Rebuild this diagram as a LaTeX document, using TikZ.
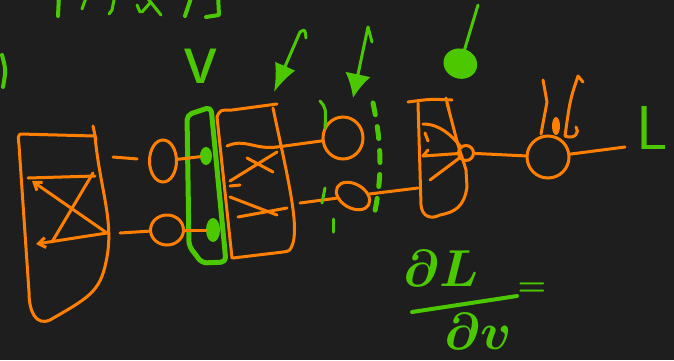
\documentclass[tikz,border=0pt]{standalone}
\usetikzlibrary{arrows.meta,shapes.geometric}

\definecolor{board}{HTML}{1E1E1E}
\definecolor{pen}{HTML}{FF8000}
\definecolor{ink}{HTML}{4CC800}

\tikzset{
  op/.style={pen, line width=3pt, line cap=round, line join=round},
  gr/.style={ink, line width=4pt, line cap=round, line join=round},
  unit/.style={draw=pen, line width=3pt, ellipse, inner sep=0pt},
  blob/.style={fill=ink, ellipse, inner sep=0pt},
  hand/.style={ink, inner sep=0pt},
  >={Straight Barb[length=7pt,width=10pt]}
}

\begin{document}
\begin{tikzpicture}[x=1pt,y=-1pt]
\useasboundingbox (0,0) rectangle (674,360);
\fill[board] (0,0) rectangle (674,360);
\clip (0,0) rectangle (674,360);

% scribbles cut off at the top
\draw[gr] (59,-5) -- (58,16);
\draw[gr,line width=3pt] (87,-5) -- (82,9);
\draw[gr,line width=3pt] (115,-5) -- (112,10) -- (109,14);
\draw[gr,line width=3pt] (145,-5) -- (161,15);
\draw[gr,line width=3pt] (150,3) -- (142,12);
\draw[gr,line width=3pt] (137,5) -- (140,12);
\draw[gr] (192,-5) -- (185,16);
\draw[gr] (218,-5) -- (219,15) -- (206,17);
\draw[gr] (2,55) .. controls (6,70) .. (3,87);

% first layer
\draw[op] (20,134) -- (95,136) .. controls (100,190) and (115,222) .. (106,262)
  .. controls (100,292) and (88,298) .. (50,320) .. controls (36,326) and (29,312) .. (29,292)
  -- (19,145) .. controls (18,136) .. (20,134);
\draw[op] (93,126) -- (96,140);
\draw[op] (28,178) -- (95,176);
\draw[op,->] (107,233) -- (32,181);
\draw[op] (93,173) -- (52,242);
\draw[op,->] (107,233) -- (36,244);
\coordinate (a1) at (113,157);
\coordinate (a2) at (120,233);

\node[unit, minimum width=27pt, minimum height=42pt] (x1) at (163,161) {};
\node[unit, minimum width=33pt, minimum height=30pt] (x2) at (167,230) {};
\draw[op, shorten >=11pt] (a1) -- (x1);
\draw[op] (a2) -- (x2);

% weights v
\draw[ink, line width=5pt, rounded corners=5pt, line join=round]
  (187,115) -- (211,107) -- (226,262) -- (202,263) -- (189,246) -- cycle;
\node[blob, minimum width=12pt, minimum height=18pt] (b1) at (206,156) {};
\node[blob, minimum width=14pt, minimum height=24pt] (b2) at (213,230) {};
\draw[op] (x1) -- (b1);
\draw[op] (x2) -- (b2);
\node[hand, font=\sffamily\fontsize{80}{80}\selectfont] (v) at (201,66) {v};

% second layer
\draw[op] (217,117) .. controls (220,110) .. (232,110) -- (277,104);
\draw[op] (273,108) .. controls (286,170) and (299,222) .. (293,243)
  .. controls (290,251) .. (283,252) -- (233,258);
\draw[op] (232,258) -- (217,117);
\coordinate (s1) at (277,147);
\coordinate (s2) at (300,203);
\draw[op] (227,146) .. controls (245,138) and (255,150) .. (s1);
\draw[op] (230,181) -- (277,152);
\draw[op] (247,158) -- (273,172);
\draw[op] (230,186) -- (240,185);
\draw[op] (230,197) -- (277,215);
\draw[op] (238,217) -- (287,208);

\node[unit, minimum width=40pt, minimum height=42pt] (x3) at (343,138) {};
\node[unit, minimum width=36pt, minimum height=24pt, rotate=-30] (x4) at (353,196) {};
\draw[op] (s1) -- (x3);
\draw[op] (s2) -- (x4);

% marks and cut
\draw[gr,line width=3pt] (320,101) .. controls (326,108) .. (325,128);
\draw[gr,line width=3pt] (325,188) -- (322,203);
\draw[gr,line width=3pt] (333,219) -- (333,232);
\draw[gr, line width=5pt, dash pattern=on 12pt off 12pt]
  (373,103) .. controls (383,150) and (381,180) .. (375,211);

% third layer
\coordinate (t1) at (418,188);
\draw[op] (x4) -- (t1);
\draw[op] (408,102) .. controls (430,99) .. (452,100);
\draw[op] (446,98) -- (449,110);
\draw[op] (418,103) -- (421,205) .. controls (422,216) and (430,220) .. (440,215)
  .. controls (455,212) and (464,207) .. (467,187) -- (466,170)
  .. controls (463,160) .. (458,145) -- (447,103);
\node[draw=pen, line width=3pt, circle, minimum size=15pt, inner sep=0pt] (k) at (466,153) {};
\draw[op] (423,124) .. controls (440,124) and (452,136) .. (k);
\draw[op] (k) -- (423,156);
\draw[op] (428,150) -- (423,156);
\draw[op] (430,180) -- (k);
\draw[op] (425,133) -- (428,141);

% loss
\node[unit, circle, minimum size=42pt] (y) at (548,157) {};
\coordinate (e) at (625,147);
\draw[op] (k) -- (y);
\draw[op] (y) -- (e);
\node[hand, font=\sffamily\fontsize{62}{62}\selectfont] (L) at (652,128) {L};
\draw[op] (543,80) -- (547,102) -- (541,134);
\draw[op] (583,82) -- (578,76) .. controls (570,100) .. (565,136) .. controls (575,140) and (580,132) .. (576,127);
\fill[pen] (556,126) ellipse (4 and 9);

% gradients
\draw[gr, line width=3pt, -{Latex[length=28pt,width=22pt]}] (306,38) .. controls (305,29) .. (300,32) -- (274,92);
\draw[gr, line width=3pt, -{Latex[length=24pt,width=26pt]}] (372,42) -- (368,27) -- (353,98);
\draw[gr, line width=3pt, -{Circle[length=30pt,width=34pt]}] (478,5) -- (456,78);

\node[hand] (dL) at (441,268) {\scalebox{5.2}{\boldmath$\partial L$}};
\draw[gr] (412,312) -- (517,296);
\node[hand] (dv) at (478,331) {\scalebox{5.2}{\boldmath$\partial v$}};
\node[hand] (eq) at (532,289) {\scalebox{3.2}{\boldmath$=$}};
\end{tikzpicture}
\end{document}
